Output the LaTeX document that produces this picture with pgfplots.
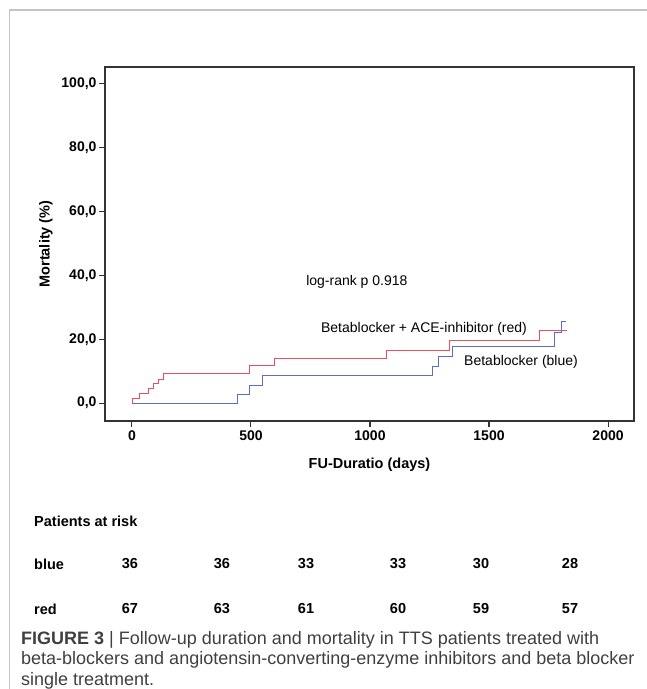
\documentclass[border=0pt]{standalone}
\usepackage{fontspec}
\setmainfont{Liberation Sans}
\usepackage{pgfplots}
\pgfplotsset{compat=1.18}

\definecolor{kmred}{HTML}{E8505E}
\definecolor{kmblue}{HTML}{5B6EC2}
\definecolor{framegray}{HTML}{C4C4C4}
\definecolor{capgray}{HTML}{404040}
\definecolor{axgray}{HTML}{333333}

% Kaplan-Meier steps: time (days), cumulative mortality (%)
\pgfplotstableread{
t m
0 0
2 1.5
34 3.0
69 4.5
92 6.0
113 7.5
134 9.4
492 11.9
601 14.0
1071 16.6
1332 19.5
1712 22.7
1828 22.7
}\redtab
\pgfplotstableread{
t m
0 0
444 2.8
492 5.4
548 8.5
1262 11.4
1287 14.5
1347 17.6
1775 22.0
1805 25.6
1824 25.6
}\bluetab

\newcommand{\tickfont}{\fontsize{14}{14}\selectfont\bfseries}
\newcommand{\labfont}{\fontsize{14.5}{14.5}\selectfont\bfseries}
\newcommand{\annfont}{\fontsize{14}{14}\selectfont}
\newcommand{\tabfont}{\fontsize{14.5}{14.5}\selectfont\bfseries}
\newcommand{\capfont}{\fontsize{18}{18}\selectfont}

\begin{document}
\begin{tikzpicture}[x=1pt,y=1pt]
\path[use as bounding box, fill=white] (0,0) rectangle (647,689);
\draw[framegray, line width=1.3pt] (9.5,0) -- (9.5,679) -- (647,679);

\begin{axis}[
    at={(105pt,268pt)}, anchor=south west,
    scale only axis, width=529pt, height=354pt,
    xmin=-113, xmax=2109, ymin=-5.6, ymax=105.3,
    xtick={0,500,1000,1500,2000},
    xticklabels={0,500,1000,1500,2000},
    ytick={0,20,40,60,80,100},
    yticklabels={{0,0},{20,0},{40,0},{60,0},{80,0},{100,0}},
    tick pos=left, tick align=outside, major tick length=6pt,
    axis line style={axgray, line width=1.1pt},
    tick style={axgray, line width=1.1pt},
    ticklabel style={font=\tickfont, text=black},
    yticklabel style={xshift=1pt},
    xlabel={FU-Duratio (days)},
    ylabel={Mortality (\%)},
    xlabel style={at={(axis description cs:0.5,0)}, anchor=center, yshift=-44pt, font=\labfont},
    ylabel style={at={(axis description cs:-0.112,0.5)}, anchor=center, font=\labfont},
    clip=false,
]
\addplot[const plot mark left, kmblue, line width=1pt, no marks] table[x=t, y=m] {\bluetab};
\addplot[const plot mark left, kmred, line width=1pt, no marks] table[x=t, y=m] {\redtab};

\node[font=\annfont, anchor=center] at (axis cs:945,38) {log-rank p 0.918};
\node[font=\annfont, anchor=east, inner sep=0pt] at (axis cs:1660,23.2) {Betablocker + ACE-inhibitor (red)};
\node[font=\annfont, anchor=west, inner sep=0pt] at (axis cs:1395,12.9) {Betablocker (blue)};
\end{axis}

% patients at risk table
\node[font=\tabfont, anchor=west, inner sep=0pt] at (34,168) {Patients at risk};
\node[font=\tabfont, anchor=west, inner sep=0pt] at (34,125) {blue};
\node[font=\tabfont, anchor=west, inner sep=0pt] at (34,80) {red};
\foreach \x/\b/\r in {130/36/67, 222/36/63, 306/33/61, 398/33/60, 481/30/59, 570/28/57} {
  \node[font=\tabfont, inner sep=0pt] at (\x,125) {\b};
  \node[font=\tabfont, inner sep=0pt] at (\x,80) {\r};
}

% caption
\node[font=\capfont, text=capgray, anchor=base west, inner sep=0pt] at (21,44.5)
  {\textbf{FIGURE 3} | Follow-up duration and mortality in TTS patients treated with};
\node[font=\capfont, text=capgray, anchor=base west, inner sep=0pt] at (21,24)
  {beta-blockers and angiotensin-converting-enzyme inhibitors and beta blocker};
\node[font=\capfont, text=capgray, anchor=base west, inner sep=0pt] at (21,4)
  {single treatment.};
\end{tikzpicture}
\end{document}
